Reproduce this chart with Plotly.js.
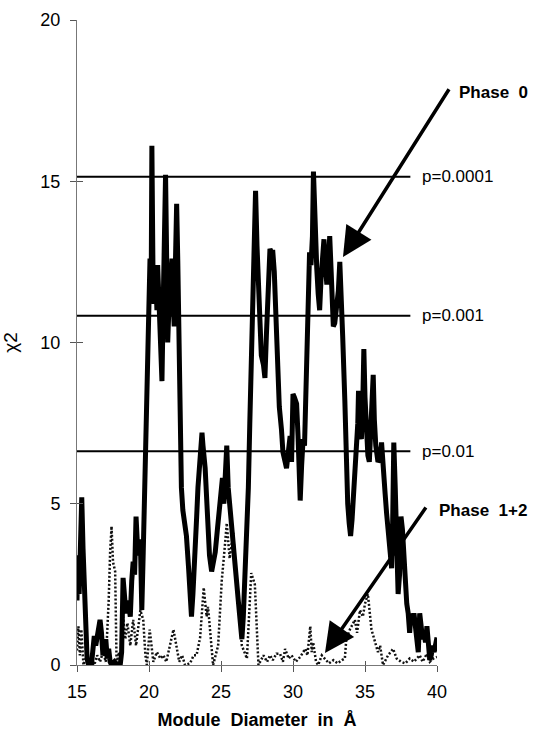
<!DOCTYPE html>
<html>
<head>
<meta charset="utf-8">
<script src="https://cdn.plot.ly/plotly-3.0.1.min.js"></script>
<style>html,body{margin:0;padding:0;background:#fff;}#chart{width:543px;height:736px;}</style>
</head>
<body>
<div id="chart"></div>
<script>
// Phase 0 chi-square curve (module diameter in Å, chi2)
const phase0X = [15.0,15.05,15.15,15.25,15.33,15.42,15.5,15.6,15.7,15.8,15.9,16.0,16.1,16.2,16.3,16.4,16.5,16.6,16.7,16.8,16.9,17.0,17.1,17.2,17.3,17.4,17.6,17.8,18.0,18.1,18.2,18.3,18.4,18.55,18.7,18.8,18.9,19.0,19.1,19.2,19.3,19.4,19.5,19.6,19.7,19.8,19.9,20.0,20.07,20.15,20.2,20.28,20.35,20.45,20.55,20.6,20.7,20.8,20.9,21.0,21.05,21.15,21.25,21.3,21.4,21.5,21.6,21.7,21.75,21.85,21.92,22.0,22.05,22.1,22.15,22.25,22.35,22.45,22.6,22.75,22.85,22.95,23.05,23.2,23.3,23.4,23.5,23.6,23.68,23.75,23.9,24.0,24.1,24.2,24.35,24.5,24.6,24.75,24.9,25.0,25.1,25.2,25.3,25.4,25.5,25.6,25.75,25.85,26.0,26.2,26.35,26.45,26.55,26.7,26.8,26.9,27.0,27.1,27.2,27.25,27.32,27.4,27.5,27.6,27.7,27.8,27.95,28.05,28.15,28.3,28.4,28.5,28.6,28.7,28.8,28.95,29.05,29.2,29.3,29.45,29.55,29.65,29.8,29.9,30.0,30.1,30.25,30.35,30.45,30.5,30.6,30.7,30.8,30.95,31.05,31.15,31.25,31.35,31.42,31.5,31.6,31.65,31.75,31.85,31.95,32.05,32.15,32.25,32.35,32.45,32.55,32.65,32.8,32.9,33.05,33.15,33.25,33.35,33.45,33.6,33.7,33.8,33.9,34.0,34.1,34.2,34.3,34.4,34.5,34.55,34.65,34.75,34.85,34.92,35.0,35.1,35.2,35.3,35.4,35.5,35.57,35.65,35.75,35.9,36.05,36.15,36.25,36.4,36.5,36.6,36.75,36.85,36.92,37.0,37.1,37.2,37.3,37.4,37.5,37.6,37.7,37.8,37.9,38.0,38.1,38.2,38.3,38.4,38.5,38.6,38.7,38.8,38.9,39.0,39.1,39.2,39.3,39.4,39.5,39.6,39.7,39.8,39.9,40.0];
const phase0Y = [2.0,3.4,2.2,4.3,5.2,3.6,2.3,0.9,0.2,0.0,0.1,0.0,0.5,0.9,0.6,0.9,1.0,1.4,1.0,0.3,0.6,0.8,0.2,0.5,0.1,0.0,0.1,0.0,0.0,0.4,2.7,2.2,1.6,2.0,1.5,2.6,3.2,2.8,4.6,3.7,3.4,3.9,1.7,3.5,5.5,7.8,10.5,11.0,12.6,11.5,16.1,12.0,11.2,12.3,11.0,12.4,11.3,10.2,8.8,11.5,12.5,15.2,11.8,10.0,11.3,12.2,12.6,11.0,10.5,12.8,14.3,12.5,11.0,9.0,7.5,5.5,4.8,4.5,4.0,3.0,2.4,1.5,2.2,3.3,4.5,5.5,6.0,6.6,7.2,6.8,6.1,5.2,4.0,3.4,2.9,3.2,3.5,4.2,4.9,5.0,5.8,5.0,6.0,6.8,5.5,4.9,4.3,3.9,3.0,2.0,1.0,0.8,1.5,3.0,4.5,5.5,7.5,9.6,11.2,11.8,12.9,14.7,13.0,11.6,10.5,9.6,9.3,8.9,10.2,11.6,12.9,12.8,12.8,12.2,10.8,9.4,8.0,7.3,6.6,6.3,6.1,6.5,7.1,6.3,8.4,8.3,8.1,7.1,5.8,5.1,6.2,7.0,6.8,9.0,11.2,12.8,12.4,13.3,15.3,14.0,13.0,12.3,11.5,11.0,12.0,12.9,13.2,12.4,11.8,12.4,13.3,12.2,10.5,10.6,11.2,11.6,12.5,11.6,10.2,8.2,6.2,5.0,4.4,4.0,4.5,5.3,6.1,6.5,7.5,8.5,7.6,7.0,8.2,9.8,8.3,7.0,6.5,6.3,7.5,8.6,9.0,7.6,6.8,6.3,6.4,6.9,6.0,5.3,4.7,4.2,3.6,3.0,4.4,6.9,5.5,3.8,2.2,2.8,4.6,4.2,3.2,2.5,1.9,1.6,1.0,1.6,1.3,1.6,1.1,0.8,0.4,1.6,1.2,0.8,1.0,0.7,1.2,0.8,0.15,0.3,0.6,0.4,0.7,0.85];

// Phase 1+2 chi-square curve
const phase12X = [15.0,15.1,15.2,15.3,15.45,15.6,15.8,16.0,16.2,16.4,16.6,16.8,17.0,17.05,17.2,17.3,17.4,17.5,17.65,17.75,17.9,18.1,18.2,18.35,18.5,18.7,18.9,19.1,19.25,19.4,19.6,19.75,19.85,20.05,20.2,20.3,20.55,20.8,21.0,21.2,21.45,21.7,21.9,22.1,22.3,22.5,22.85,23.1,23.3,23.55,23.8,24.0,24.1,24.3,24.45,24.8,25.05,25.25,25.4,25.6,25.85,26.0,26.2,26.45,26.8,27.0,27.1,27.35,27.6,27.95,28.2,28.4,28.6,28.85,29.1,29.3,29.45,29.7,29.9,30.2,30.5,30.85,31.0,31.2,31.3,31.4,31.6,31.75,32.0,32.2,32.5,32.8,33.1,33.4,33.6,33.7,33.95,34.3,34.45,34.65,34.85,35.0,35.2,35.45,35.7,35.9,36.05,36.25,36.6,36.95,37.2,37.5,37.8,38.1,38.4,38.8,39.0,39.3,39.5,39.75,40.0];
const phase12Y = [0.45,1.2,0.3,1.1,0.0,0.2,0.0,0.2,0.0,0.3,0.1,0.4,0.1,0.55,2.0,3.5,4.3,3.2,2.9,0.0,0.4,0.2,1.5,0.8,1.3,0.6,1.4,0.6,1.2,1.7,1.4,0.3,0.0,1.1,0.5,0.1,0.4,0.2,0.3,0.1,0.6,1.1,0.6,0.1,0.3,0.0,0.05,0.3,0.3,0.85,2.4,1.5,1.8,0.6,0.0,0.6,2.6,3.6,4.4,3.3,4.1,3.0,2.0,0.6,0.2,1.8,2.85,2.5,0.0,0.3,0.1,0.3,0.15,0.35,0.35,0.1,0.5,0.2,0.3,0.1,0.25,0.5,0.3,1.2,0.4,0.7,0.1,0.0,0.3,0.2,0.05,0.15,0.05,0.15,0.2,0.8,1.1,1.4,1.0,1.7,1.5,1.9,2.2,1.1,0.7,0.4,0.6,0.0,0.3,0.5,0.2,0.1,0.05,0.2,0.1,0.3,0.1,0.35,0.1,0.2,0.25];

// Significance thresholds
const thresholdLabels = ["p=0.0001", "p=0.001", "p=0.01"];
const thresholdValues = [15.14, 10.83, 6.63];
const thresholdStart = 15;
const thresholdEnd = 38.15;

const xTicks = [15, 20, 25, 30, 35, 40];
const yTicks = [0, 5, 10, 15, 20];

const FONT = "Liberation Sans, Arial, Helvetica, sans-serif";

const traces = [];
traces.push({
  x: phase12X, y: phase12Y, type: 'scatter', mode: 'lines',
  line: {color: '#111', width: 2.5, dash: '2px,2px'},
  hoverinfo: 'skip', showlegend: false
});
traces.push({
  x: phase0X, y: phase0Y, type: 'scatter', mode: 'lines',
  line: {color: '#000', width: 5, shape: 'linear'},
  hoverinfo: 'skip', showlegend: false
});
thresholdValues.forEach(v => {
  traces.push({
    x: [thresholdStart, thresholdEnd], y: [v, v], type: 'scatter', mode: 'lines',
    xaxis: 'x2', yaxis: 'y2',
    line: {color: '#000', width: 2}, hoverinfo: 'skip', showlegend: false
  });
});

const annotations = [];
thresholdValues.forEach((v, i) => {
  annotations.push({
    x: 38.8, y: v, xref: 'x', yref: 'y', text: thresholdLabels[i],
    showarrow: false, xanchor: 'left', yanchor: 'middle',
    font: {family: FONT, size: 17, color: '#000'}
  });
});
annotations.push({
  x: 1.0556, y: 0.888, xref: 'paper', yref: 'paper', text: '<b>Phase&nbsp;&nbsp;0</b>',
  showarrow: false, xanchor: 'left', yanchor: 'middle',
  font: {family: FONT, size: 17, color: '#000'}
});
annotations.push({
  x: 1.0, y: 0.2403, xref: 'paper', yref: 'paper', text: '<b>Phase&nbsp;&nbsp;1+2</b>',
  showarrow: false, xanchor: 'left', yanchor: 'middle',
  font: {family: FONT, size: 17, color: '#000'}
});
annotations.push({
  x: 33.47, y: 12.65, ax: 40.9, ay: 17.9, xref: 'x', yref: 'y', axref: 'x', ayref: 'y',
  text: '', showarrow: true, arrowhead: 2, arrowsize: 1.7, arrowwidth: 3.5, arrowcolor: '#000'
});
annotations.push({
  x: 32.22, y: 0.37, ax: 39.3, ay: 4.93, xref: 'x', yref: 'y', axref: 'x', ayref: 'y',
  text: '', showarrow: true, arrowhead: 2, arrowsize: 1.7, arrowwidth: 3.5, arrowcolor: '#000'
});

const axisCommon = {
  showgrid: false, zeroline: false, showline: true, linecolor: '#777', linewidth: 1,
  ticks: 'outside', ticklen: 6, tickcolor: '#555', tickwidth: 1,
  tickfont: {family: FONT, size: 18, color: '#000'}
};

const layout = {
  width: 543, height: 736,
  margin: {l: 77, r: 106, t: 20, b: 71},
  paper_bgcolor: '#fff', plot_bgcolor: '#fff',
  xaxis: Object.assign({}, axisCommon, {
    range: [15, 40], tickvals: xTicks, ticktext: xTicks.map(String), ticklabelstandoff: 4,
    title: {text: '<b>Module&nbsp;&nbsp;Diameter&nbsp;&nbsp;in&nbsp;&nbsp;Å</b>', font: {family: FONT, size: 18, color: '#000'}, standoff: 12}
  }),
  yaxis: Object.assign({}, axisCommon, {
    range: [0, 20], tickvals: yTicks, ticktext: yTicks.map(String), ticklabelstandoff: 6,
    title: {text: 'χ2', font: {family: FONT, size: 19, color: '#000'}, standoff: 18}
  }),
  xaxis2: {overlaying: 'x', range: [15, 40], tickvals: xTicks, ticks: 'inside', ticklen: 4,
    tickcolor: '#555', showticklabels: false, showgrid: false, zeroline: false, showline: false, anchor: 'y2'},
  yaxis2: {overlaying: 'y', range: [0, 20], tickvals: yTicks, ticks: 'inside', ticklen: 6,
    tickcolor: '#555', showticklabels: false, showgrid: false, zeroline: false, showline: false, anchor: 'x2', side: 'left'},
  annotations: annotations,
  showlegend: false
};

Plotly.newPlot('chart', traces, layout, {staticPlot: true, displayModeBar: false});
</script>
</body>
</html>
